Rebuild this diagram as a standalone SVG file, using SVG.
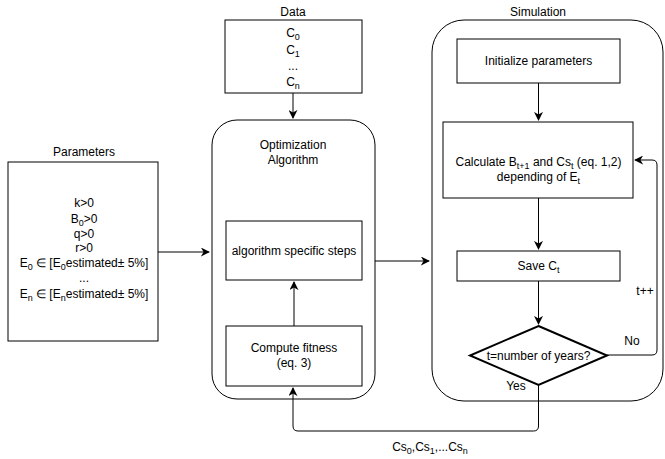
<svg xmlns="http://www.w3.org/2000/svg" width="665" height="459" viewBox="0 0 665 459">
<defs>
<style>
text{font-family:"Liberation Sans",Arial,sans-serif;font-size:12px;fill:#000;text-anchor:middle}
.b{fill:#fff;stroke:#000;stroke-width:1}
.c{fill:none;stroke:#000;stroke-width:1}
.s{font-size:9px}
</style>
<marker id="a" viewBox="0 0 10 10" refX="9" refY="5" markerWidth="9" markerHeight="9" orient="auto" markerUnits="userSpaceOnUse"><path d="M0,0 L10,5 L0,10 L3,5 Z" fill="#000"/></marker>
</defs>
<rect width="665" height="459" fill="#fff"/>
<g id="parameters">
<text x="84" y="156">Parameters</text>
<rect class="b" x="8" y="162" width="150" height="179"/>
<text x="84" y="207">k&gt;0</text>
<text x="84" y="223">B<tspan class="s" dy="3">0</tspan><tspan dy="-3">&gt;0</tspan></text>
<text x="84" y="238">q&gt;0</text>
<text x="84" y="252">r&gt;0</text>
<text x="84" y="267">E<tspan class="s" dy="3">0</tspan><tspan dy="-3"> ∈ [E</tspan><tspan class="s" dy="3">0</tspan><tspan dy="-3">estimated± 5%]</tspan></text>
<text x="84" y="282">...</text>
<text x="84" y="298">E<tspan class="s" dy="3">n</tspan><tspan dy="-3"> ∈ [E</tspan><tspan class="s" dy="3">n</tspan><tspan dy="-3">estimated± 5%]</tspan></text>
</g>
<g id="data">
<text x="293" y="16">Data</text>
<rect class="b" x="225" y="20" width="137" height="73"/>
<text x="293" y="37">C<tspan class="s" dy="3">0</tspan></text>
<text x="293" y="54">C<tspan class="s" dy="3">1</tspan></text>
<text x="293" y="70">...</text>
<text x="293" y="86">C<tspan class="s" dy="3">n</tspan></text>
</g>
<g id="optimization">
<rect class="b" x="212" y="120" width="163" height="279" rx="25" ry="25"/>
<text x="293" y="149">Optimization</text>
<text x="293" y="164">Algorithm</text>
</g>
<g id="simulation">
<text x="538" y="16">Simulation</text>
<rect class="b" x="432" y="20" width="231" height="381" rx="32" ry="32"/>
</g>
<g id="connectors">
<path class="c" d="M158,252 H209" marker-end="url(#a)"/>
<path class="c" d="M293,93 V118" marker-end="url(#a)"/>
<path class="c" d="M375,261 H429" marker-end="url(#a)"/>
<path class="c" d="M294,326 V282" marker-end="url(#a)"/>
<path class="c" d="M538.5,83 V120" marker-end="url(#a)"/>
<path class="c" d="M538.5,198 V249" marker-end="url(#a)"/>
<path class="c" d="M538.5,281 V324" marker-end="url(#a)"/>
<path class="c" d="M607,355 H652 Q657,355 657,350 V165 Q657,160 652,160 H635" marker-end="url(#a)"/>
<path class="c" d="M538.5,385 V426 Q538.5,431 533.5,431 H298 Q293,431 293,426 V388" marker-end="url(#a)"/>
<rect x="636" y="284" width="20" height="14" fill="#fff"/>
<text x="645" y="295">t++</text>
<text x="632" y="345">No</text>
<text x="516" y="390">Yes</text>
<text x="430" y="451">Cs<tspan class="s" dy="3">0</tspan><tspan dy="-3">,Cs</tspan><tspan class="s" dy="3">1</tspan><tspan dy="-3">,...Cs</tspan><tspan class="s" dy="3">n</tspan></text>
</g>
<g id="specific">
<rect class="b" x="226" y="221" width="136" height="59"/>
<text x="294" y="255">algorithm specific steps</text>
</g>
<g id="fitness">
<rect class="b" x="226" y="326" width="136" height="60"/>
<text x="294" y="352">Compute fitness</text>
<text x="294" y="367">(eq. 3)</text>
</g>
<g id="init">
<rect class="b" x="457" y="39" width="163" height="44"/>
<text x="538.5" y="65">Initialize parameters</text>
</g>
<g id="calc">
<rect class="b" x="443" y="122" width="190" height="76"/>
<text x="538.5" y="166">Calculate B<tspan class="s" dy="3">t+1</tspan><tspan dy="-3"> and Cs</tspan><tspan class="s" dy="3">t</tspan><tspan dy="-3"> (eq. 1,2)</tspan></text>
<text x="538.5" y="181">depending of E<tspan class="s" dy="3">t</tspan></text>
</g>
<g id="save">
<rect class="b" x="457" y="251" width="163" height="30"/>
<text x="538.5" y="270">Save C<tspan class="s" dy="3">t</tspan></text>
</g>
<g id="decision">
<polygon class="b" points="538.5,326 607,355.5 538.5,385 470,355.5" style="stroke-width:2"/>
<text x="538.5" y="360">t=number of years?</text>
</g>
</svg>
